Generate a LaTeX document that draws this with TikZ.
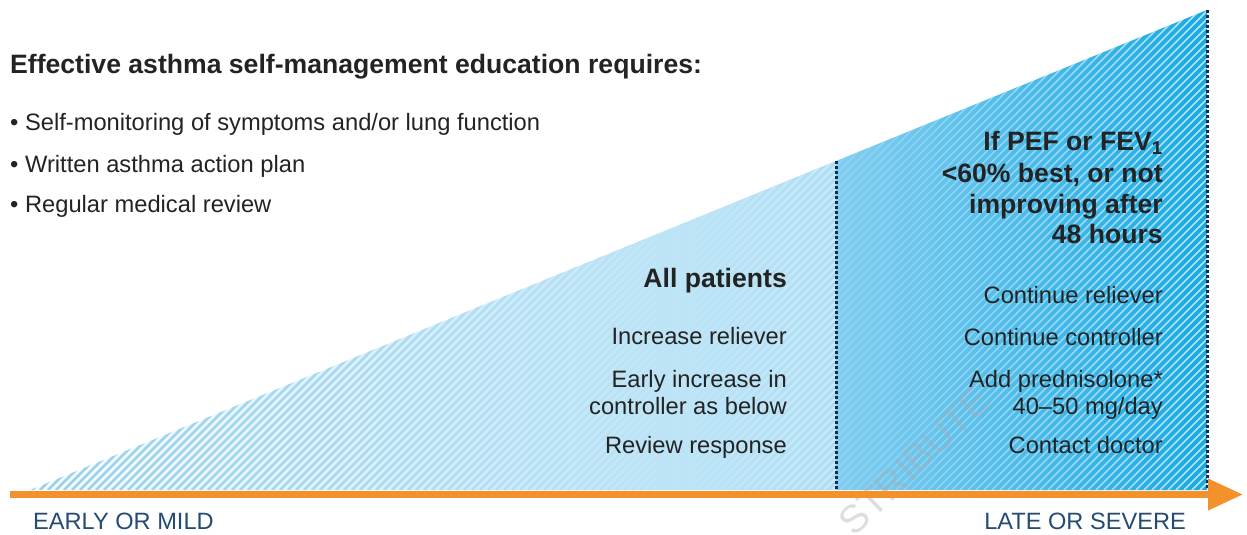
\documentclass[tikz,border=0pt]{standalone}
\usepackage{fontspec}
\setmainfont{Liberation Sans}
\usetikzlibrary{arrows.meta}
\definecolor{txt}{RGB}{35,35,35}
\definecolor{lbl}{RGB}{35,75,115}
\definecolor{navy}{RGB}{20,45,85}
\definecolor{orng}{RGB}{243,146,45}
\definecolor{bgLa}{RGB}{255,255,255}
\definecolor{bgLb}{RGB}{172,222,244}
\definecolor{stLa}{RGB}{150,208,238}
\definecolor{stLb}{RGB}{200,233,248}
\definecolor{bgRa}{RGB}{130,205,240}
\definecolor{bgRb}{RGB}{22,170,228}
\definecolor{wmark}{RGB}{170,170,175}
\begin{document}
\begin{tikzpicture}[x=1pt,y=-1pt,
  body/.style={inner sep=0, text=txt, font=\fontsize{23.7}{27}\selectfont},
  head/.style={inner sep=0, text=txt, font=\fontsize{26.6}{31}\selectfont\bfseries},
  axislbl/.style={inner sep=0, text=lbl, font=\fontsize{23.6}{27}\selectfont},
  dotline/.style={draw=navy, line width=3, dash pattern=on 2.6pt off 2.4pt},
  axisline/.style={draw=orng, line width=7},
]
\useasboundingbox (0,0) rectangle (1247,535);
\fill[white] (0,0) rectangle (1247,535);

% corner coordinates
\coordinate (tL) at (30,490);
\coordinate (tM) at (836,161);
\coordinate (tMb) at (836,490);
\coordinate (tR) at (1207,10);
\coordinate (tRb) at (1207,490);

% backgrounds
\shade[left color=bgLa, right color=bgLb] (tL) -- (tM) -- (tMb) -- cycle;
\shade[left color=bgRa, right color=bgRb] (tM) -- (tR) -- (tRb) -- (tMb) -- cycle;

% left hatching
\foreach \k in {0,...,40}{
  \pgfmathsetmacro\a{30+20*\k}
  \pgfmathsetmacro\b{\a+20}
  \pgfmathtruncatemacro\p{min(100,(\a-20)/8.06)}
  \pgfmathtruncatemacro\nlo{floor((\a-480)/8)-1}
  \pgfmathtruncatemacro\nhi{ceil(\b/8)+1}
  \begin{scope}
    \clip (tL) -- (tM) -- (tMb) -- cycle;
    \clip (\a,0) rectangle (\b,535);
    \foreach \n in {\nlo,...,\nhi}{
      \draw[line width=2.8, color=stLb!\p!stLa] (8*\n,490) -- ++(480,-480);
    }
  \end{scope}
}
% right hatching
\foreach \k in {0,...,18}{
  \pgfmathsetmacro\a{836+20*\k}
  \pgfmathsetmacro\b{\a+20}
  \pgfmathsetmacro\op{0.1+0.6*min(1,(\a+10-836)/371)}
  \pgfmathtruncatemacro\nlo{floor((\a-480)/8)-1}
  \pgfmathtruncatemacro\nhi{ceil(\b/8)+1}
  \begin{scope}
    \clip (tM) -- (tR) -- (tRb) -- (tMb) -- cycle;
    \clip (\a,0) rectangle (\b,535);
    \foreach \n in {\nlo,...,\nhi}{
      \draw[line width=1.6, white, opacity=\op] (8*\n,490) -- ++(480,-480);
    }
  \end{scope}
}

% dotted separators
\coordinate (d1t) at (836,161);
\coordinate (d1b) at (836,489);
\coordinate (d2t) at (1207,10);
\coordinate (d2b) at (1207,489);
\draw[dotline] (d1t) -- (d1b);
\draw[dotline] (d2t) -- (d2b);

% watermark
\node[inner sep=0, text=wmark, opacity=0.4, rotate=44,
      font=\fontsize{39}{39}\selectfont] (wm) at (915,461) {STRIBUTE};

% axis arrow
\coordinate (axL) at (10,494.5);
\coordinate (axR) at (1243,494.5);
\draw[axisline, -{Triangle[length=35pt,width=30pt]}] (axL) -- (axR);

% left text block
\node[head, anchor=base west] (title) at (10,74) {Effective asthma self-management education requires:};
\node[body, anchor=base west] (b1) at (10,130) {• Self-monitoring of symptoms and/or lung function};
\node[body, anchor=base west] (b2) at (10,172) {• Written asthma action plan};
\node[body, anchor=base west] (b3) at (10,212) {• Regular medical review};

% all patients column
\node[head, anchor=base east] (allp) at (787,287) {All patients};
\node[body, anchor=base east] (l1) at (787,344) {Increase reliever};
\node[body, anchor=base east] (l2) at (787,387) {Early increase in};
\node[body, anchor=base east] (l3) at (787,414) {controller as below};
\node[body, anchor=base east] (l4) at (787,453) {Review response};

% severe column
\node[head, anchor=base east] (h1) at (1163,150) {If PEF or FEV\textsubscript{1}};
\node[head, anchor=base east] (h2) at (1163,182) {<60\% best, or not};
\node[head, anchor=base east] (h3) at (1163,213) {improving after};
\node[head, anchor=base east] (h4) at (1163,243) {48 hours};
\node[body, anchor=base east] (r1) at (1163,303) {Continue reliever};
\node[body, anchor=base east] (r2) at (1163,345) {Continue controller};
\node[body, anchor=base east] (r3) at (1163,387) {Add prednisolone*};
\node[body, anchor=base east] (r4) at (1163,414) {40–50 mg/day};
\node[body, anchor=base east] (r5) at (1163,453) {Contact doctor};

% axis labels
\node[axislbl, anchor=base west] (early) at (33,529) {EARLY OR MILD};
\node[axislbl, anchor=base east] (late) at (1186,529) {LATE OR SEVERE};
\end{tikzpicture}
\end{document}
